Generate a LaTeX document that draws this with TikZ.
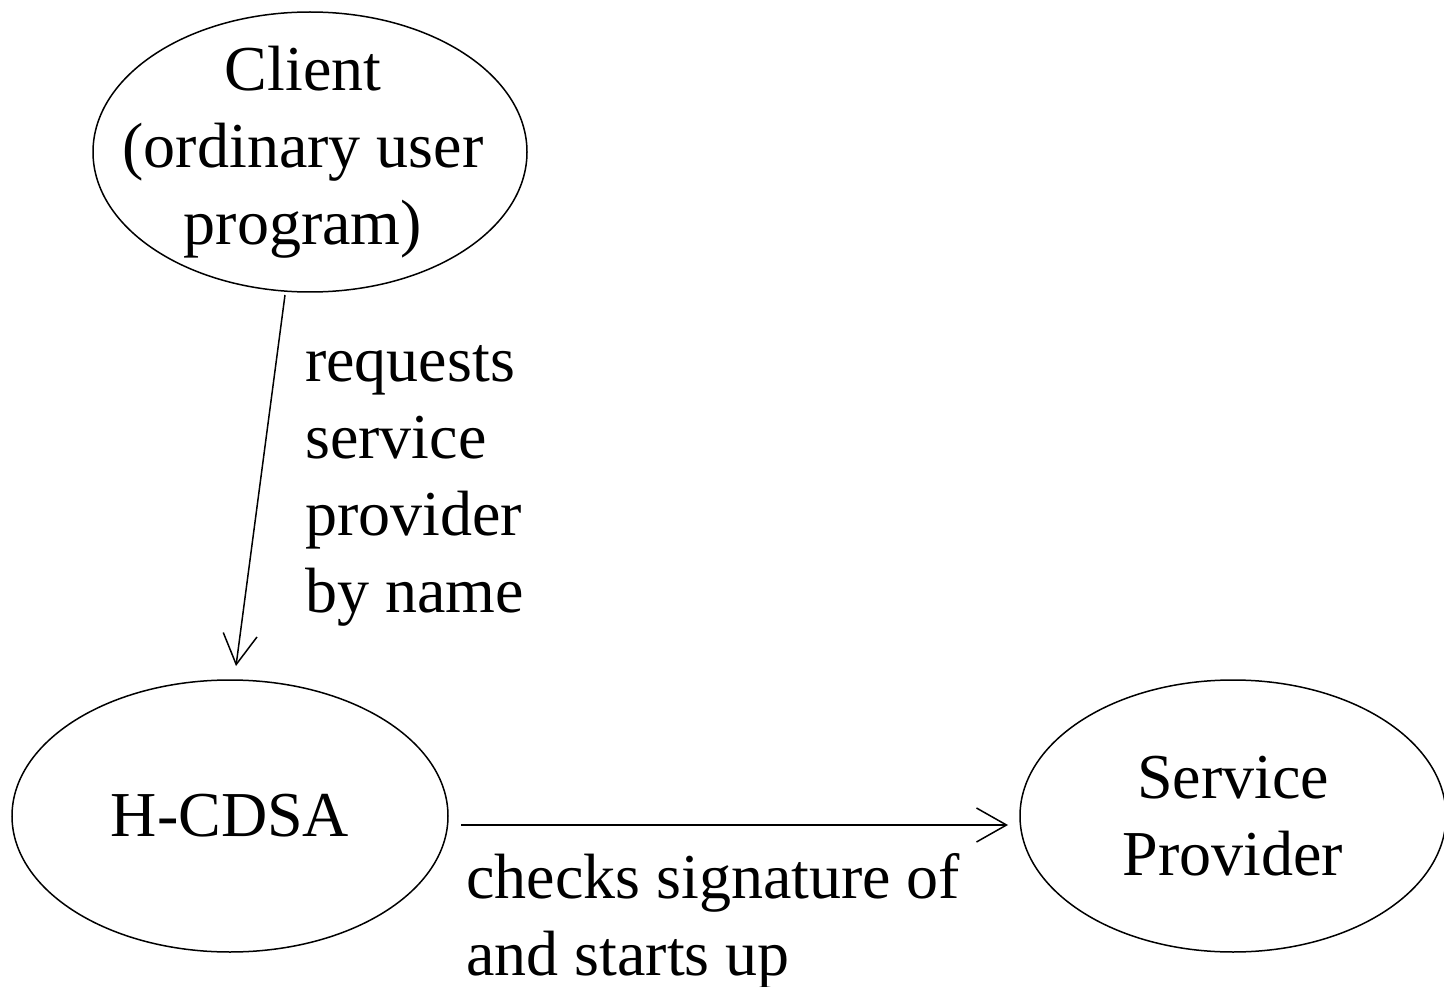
\documentclass[tikz,border=0pt]{standalone}
\usepackage{fontspec}
\setmainfont{Liberation Serif}
\usetikzlibrary{arrows.meta,shapes.geometric}
\begin{document}
\begin{tikzpicture}[x=1pt,y=-1pt,
  every node/.style={font=\fontsize{64}{77}\selectfont},
  party/.style={draw, line width=1.5pt, ellipse, inner sep=0pt},
  caption/.style={inner sep=0pt, align=center},
  flow/.style={draw, line width=1.5pt, -{Straight Barb[length=30pt,width=34pt,line width=1.5pt]}},
  note/.style={anchor=base west, inner sep=0pt, align=left}]
  \useasboundingbox (0,0) rectangle (1444,987);
  \clip (0,0) rectangle (1444,987);

  % the three parties
  \node[party, minimum width=434pt, minimum height=280pt] (client) at (310,152) {};
  \node[party, minimum width=436pt, minimum height=272pt] (hcdsa) at (230,816) {};
  \node[party, minimum width=426pt, minimum height=272pt] (sp) at (1233,816) {};

  \node[caption] (client-t) at ([xshift=-7pt]client.center) {Client\\(ordinary user\\program)};
  \node[caption] (hcdsa-t) at (hcdsa) {H-CDSA};
  \node[caption] (sp-t) at (sp) {Service\\Provider};

  % arrow end points
  \coordinate (c-out) at (285,295);
  \coordinate (h-in)  at (236,666);
  \coordinate (h-out) at (461,825);
  \coordinate (s-in)  at (1008,825);

  \draw[flow] (c-out) -- (h-in);
  \draw[flow] (h-out) -- (s-in);

  % connector labels (anchored at the baseline of their last line)
  \node[note] (lbl1) at (305,612) {requests\\service\\provider\\by name};
  \node[note] (lbl2) at (466,975) {checks signature of\\and starts up};
\end{tikzpicture}
\end{document}
